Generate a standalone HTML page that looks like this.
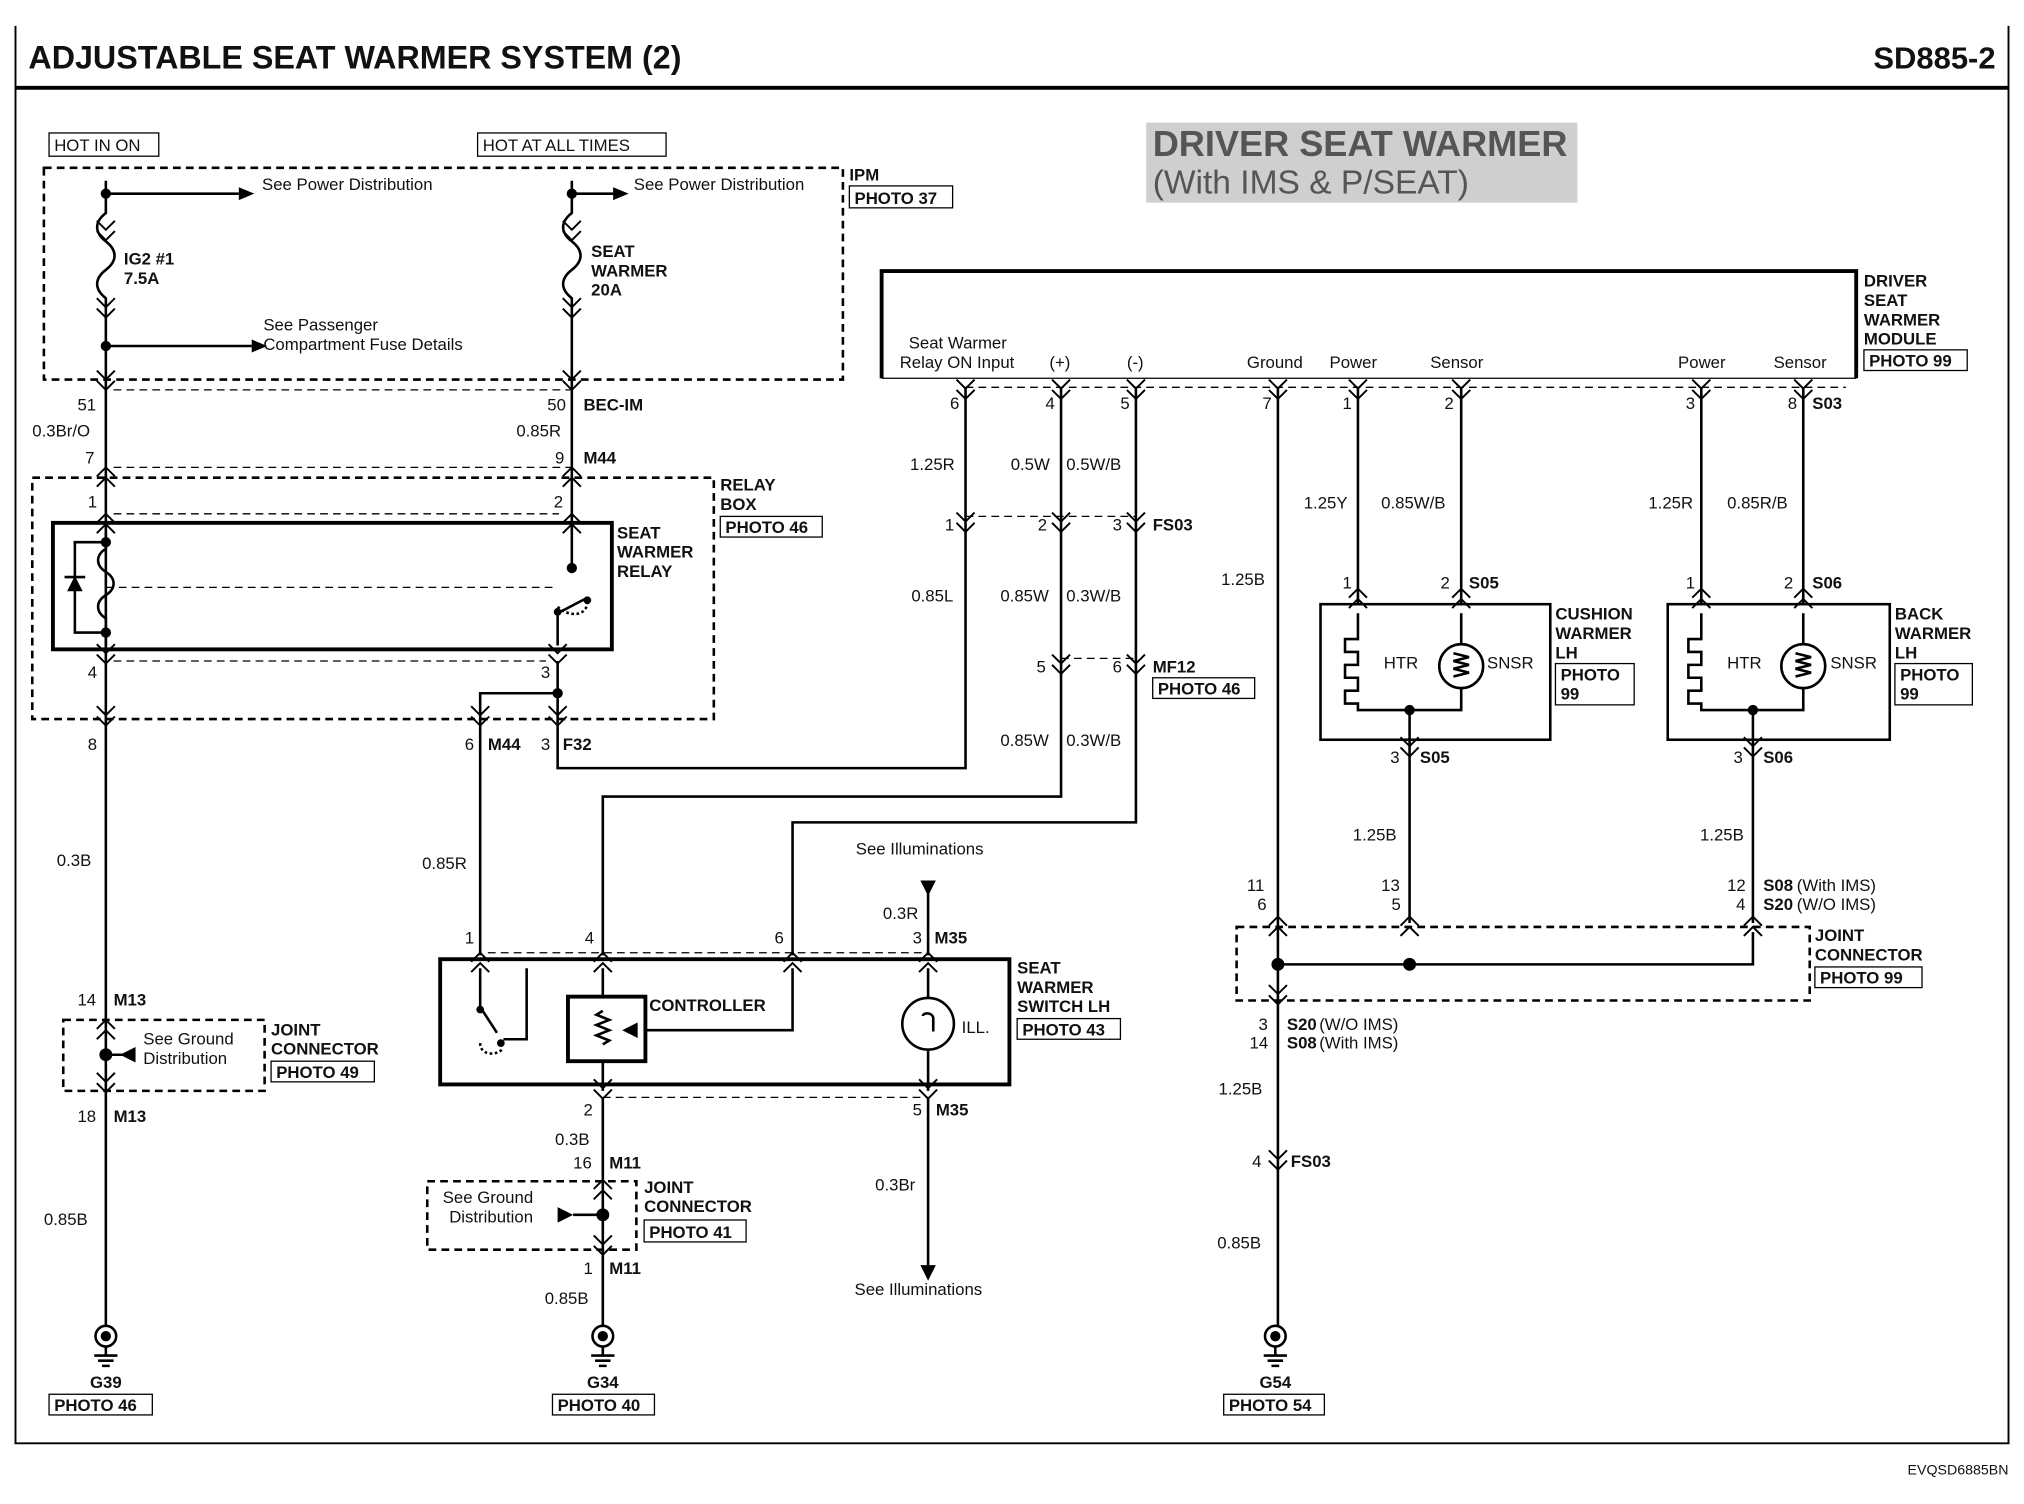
<!DOCTYPE html>
<html><head><meta charset="utf-8"><style>
html,body{margin:0;padding:0;background:#fff;}
svg{display:block;}
text{font-family:"Liberation Sans",sans-serif;font-size:13px;fill:#111;}
.b{font-weight:bold;}
</style></head><body>
<svg width="2024" height="1504" viewBox="0 0 1568 1165" preserveAspectRatio="none" xmlns="http://www.w3.org/2000/svg">
<defs>
<g id="dn" fill="none" stroke="#000" stroke-width="1.5"><path d="M-7,-9 L0,-2 L7,-9 M-7,-1 L0,6 L7,-1"/></g>
<g id="up" fill="none" stroke="#000" stroke-width="1.5"><path d="M-7,9 L0,2 L7,9 M-7,1 L0,-6 L7,1"/></g>
<g id="gnd" fill="none" stroke="#000" stroke-width="2"><circle cx="0" cy="0" r="8"/><circle cx="0" cy="0" r="3" fill="#000"/><path d="M0,8 V15 M-9,15 H9 M-6,19 H6 M-3,23 H3"/></g>
</defs>
<rect width="1568" height="1165" fill="#fff"/>
<g stroke="#000" fill="none">
<path d="M12,20 V1118 H1556 V20" stroke-width="1.5"/>
<path d="M12,68 H1556" stroke-width="3"/>
</g>
<text x="22" y="53" class="b" style="font-size:25px">ADJUSTABLE SEAT WARMER SYSTEM (2)</text>
<text x="1546" y="53" class="b" style="font-size:24px" text-anchor="end">SD885-2</text>
<text x="1556" y="1142" style="font-size:11px" text-anchor="end">EVQSD6885BN</text>

<rect x="888" y="95" width="334" height="62" fill="#cfcfcf"/>
<text x="893" y="121" class="b" style="font-size:28px;fill:#555">DRIVER SEAT WARMER</text>
<text x="893" y="150" style="font-size:26px;fill:#555">(With IMS &amp; P/SEAT)</text>

<rect x="38" y="103" width="85" height="18" fill="none" stroke="#000"/><text x="42" y="117">HOT IN ON</text>
<rect x="370" y="103" width="146" height="18" fill="none" stroke="#000"/><text x="374" y="117">HOT AT ALL TIMES</text>
<rect x="34" y="130" width="619" height="164" fill="none" stroke="#000" stroke-width="2" stroke-dasharray="6,4"/>
<text x="658" y="140" class="b">IPM</text><rect x="658" y="144" width="80" height="17" fill="none" stroke="#000"/><text x="662" y="158" class="b">PHOTO 37</text>

<g stroke="#000" stroke-width="2" fill="none">
<path d="M82,140 V165 c-9,7 -9,15 0,22 c9,7 9,15 0,22 c-9,7 -9,15 0,22 V1027"/>
<path d="M82,150 H185"/><path d="M82,268 H195"/>
<path d="M443,140 V165 c-9,7 -9,15 0,22 c9,7 9,15 0,22 c-9,7 -9,15 0,22 V440"/>
<path d="M443,150 H475"/>
</g>
<g fill="#000"><circle cx="82" cy="150" r="4"/><circle cx="82" cy="268" r="4"/><circle cx="443" cy="150" r="4"/>
<path d="M185,145 L197,150 L185,155Z"/><path d="M195,263 L207,268 L195,273Z"/><path d="M475,145 L487,150 L475,155Z"/></g>
<use href="#dn" x="82" y="180"/><use href="#dn" x="82" y="240"/><use href="#dn" x="443" y="180"/><use href="#dn" x="443" y="240"/>
<text x="203" y="147">See Power Distribution</text>
<text x="491" y="147">See Power Distribution</text>
<text x="96" y="205" class="b">IG2 #1</text><text x="96" y="220" class="b">7.5A</text>
<text x="458" y="199" class="b">SEAT</text><text x="458" y="214" class="b">WARMER</text><text x="458" y="229" class="b">20A</text>
<text x="204" y="256">See Passenger</text><text x="204" y="271">Compartment Fuse Details</text>

<g stroke="#000" stroke-width="1" stroke-dasharray="6,4" fill="none">
<path d="M88,302 H443"/><path d="M88,362 H443"/><path d="M88,398 H433"/><path d="M88,512 H423"/>
<path d="M748,300 H1430"/><path d="M748,400 H880"/><path d="M822,510 H880"/>
<path d="M378,738 H719"/><path d="M467,850 H719"/>
<path d="M82,455 H430"/>
</g>
<use href="#dn" x="82" y="296"/><use href="#dn" x="443" y="296"/>
<use href="#up" x="82" y="368"/><use href="#up" x="443" y="368"/>
<use href="#up" x="82" y="404"/><use href="#up" x="443" y="404"/>
<use href="#dn" x="82" y="508"/><use href="#dn" x="432" y="508"/>
<use href="#dn" x="82" y="556"/><use href="#dn" x="372" y="556"/><use href="#dn" x="432" y="556"/>
<text x="60" y="318">51</text><text x="25" y="338">0.3Br/O</text><text x="66" y="359">7</text>
<text x="424" y="318">50</text><text x="452" y="318" class="b">BEC-IM</text><text x="400" y="338">0.85R</text><text x="430" y="359">9</text><text x="452" y="359" class="b">M44</text>

<rect x="25" y="370" width="528" height="187" fill="none" stroke="#000" stroke-width="2" stroke-dasharray="6,4"/>
<text x="558" y="380" class="b">RELAY</text><text x="558" y="395" class="b">BOX</text>
<rect x="558" y="400" width="79" height="16" fill="none" stroke="#000"/><text x="562" y="413" class="b">PHOTO 46</text>
<text x="68" y="393">1</text><text x="429" y="393">2</text>
<rect x="41" y="405" width="433" height="98" fill="none" stroke="#000" stroke-width="3"/>
<text x="478" y="417" class="b">SEAT</text><text x="478" y="432" class="b">WARMER</text><text x="478" y="447" class="b">RELAY</text>
<g stroke="#000" stroke-width="2" fill="none">
<path d="M82,412 V425 c-8,5 -8,13 0,18 c8,5 8,13 0,18 c-8,5 -8,13 0,18 V500"/>
<path d="M82,420 H58 V490 H82"/><path d="M50,447 H66"/>
<path d="M432,475 V500"/><path d="M432,475 L455,463"/>
<path d="M455,466 C455,478 440,478 432,470" stroke-dasharray="2,2"/>
</g>
<path d="M52,458 L64,458 L58,446Z" fill="#000"/>
<g fill="#000"><circle cx="82" cy="420" r="4"/><circle cx="82" cy="490" r="4"/><circle cx="443" cy="440" r="4"/><circle cx="432" cy="474" r="3"/><circle cx="455" cy="465" r="3"/><circle cx="432" cy="537" r="4"/></g>
<text x="68" y="525">4</text><text x="419" y="525">3</text>
<text x="68" y="581">8</text><text x="360" y="581">6</text><text x="378" y="581" class="b">M44</text><text x="419" y="581">3</text><text x="436" y="581" class="b">F32</text>

<g stroke="#000" stroke-width="2" fill="none">
<path d="M432,512 V595 H748 V300"/>
<path d="M432,537 H372 V740"/>
<path d="M467,740 V617 H822 V300"/>
<path d="M614,740 V637 H880 V300"/>
<path d="M719,690 V740"/><path d="M719,850 V982"/>
<path d="M990,300 V1027"/><path d="M1052,300 V468"/><path d="M1132,300 V468"/>
<path d="M1318,300 V468"/><path d="M1397,300 V468"/>
<path d="M1092,573 V715"/><path d="M1358,573 V715"/>
<path d="M467,850 V1027"/>
</g>
<path d="M713,682 H725 L719,694Z" fill="#000"/><path d="M713,980 H725 L719,992Z" fill="#000"/>
<text x="44" y="671">0.3B</text>
<text x="60" y="779">14</text><text x="88" y="779" class="b">M13</text>
<use href="#up" x="82" y="796"/><use href="#dn" x="82" y="840"/>
<rect x="49" y="790" width="156" height="55" fill="none" stroke="#000" stroke-width="2" stroke-dasharray="6,4"/>
<circle cx="82" cy="817" r="5" fill="#000"/><path d="M82,817 H104" stroke="#000" stroke-width="2"/><path d="M105,811 L93,817 L105,823Z" fill="#000"/>
<text x="111" y="809">See Ground</text><text x="111" y="824">Distribution</text>
<text x="210" y="802" class="b">JOINT</text><text x="210" y="817" class="b">CONNECTOR</text>
<rect x="210" y="822" width="80" height="16" fill="none" stroke="#000"/><text x="214" y="835" class="b">PHOTO 49</text>
<text x="60" y="869">18</text><text x="88" y="869" class="b">M13</text>
<text x="34" y="949">0.85B</text>
<use href="#gnd" x="82" y="1035"/><text x="82" y="1075" class="b" text-anchor="middle">G39</text>
<rect x="38" y="1080" width="80" height="16" fill="none" stroke="#000"/><text x="42" y="1093" class="b">PHOTO 46</text>

<text x="327" y="673">0.85R</text>
<text x="360" y="731">1</text><text x="453" y="731">4</text><text x="600" y="731">6</text><text x="707" y="731">3</text><text x="724" y="731" class="b">M35</text>
<text x="663" y="662">See Illuminations</text><text x="684" y="712">0.3R</text>
<use href="#up" x="372" y="744"/><use href="#up" x="467" y="744"/><use href="#up" x="614" y="744"/><use href="#up" x="719" y="744"/>
<use href="#dn" x="467" y="845"/><use href="#dn" x="719" y="845"/>
<rect x="341" y="743" width="441" height="97" fill="none" stroke="#000" stroke-width="3"/>
<g stroke="#000" stroke-width="2" fill="none">
<path d="M372,750 V780 L385,800 M408,750 V805 H390"/>
<path d="M372,808 C372,818 385,818 390,812" stroke-dasharray="2,2"/>
<path d="M467,750 V773 M467,822 V845"/>
<rect x="440" y="772" width="60" height="50" stroke-width="3"/>
<path d="M467,783 l-5,3 l10,4 l-10,4 l10,4 l-10,4 l10,4 l-5,3"/>
<path d="M500,798 H614 V750"/>
<circle cx="719" cy="793" r="20"/><path d="M719,750 V773 M719,813 V845"/>
<path d="M715,787 c0,-3 8,-3 8,2 v10"/>
</g>
<path d="M494,792 L482,798 L494,804Z" fill="#000"/>
<g fill="#000"><circle cx="372" cy="782" r="3"/><circle cx="388" cy="808" r="3"/></g>
<text x="503" y="783" class="b">CONTROLLER</text><text x="745" y="800">ILL.</text>
<text x="788" y="754" class="b">SEAT</text><text x="788" y="769" class="b">WARMER</text><text x="788" y="784" class="b">SWITCH LH</text>
<rect x="788" y="789" width="80" height="16" fill="none" stroke="#000"/><text x="792" y="802" class="b">PHOTO 43</text>
<text x="452" y="864">2</text><text x="707" y="864">5</text><text x="725" y="864" class="b">M35</text>
<text x="430" y="887">0.3B</text><text x="444" y="905">16</text><text x="472" y="905" class="b">M11</text>
<use href="#up" x="467" y="920"/><use href="#dn" x="467" y="966"/>
<rect x="331" y="915" width="162" height="53" fill="none" stroke="#000" stroke-width="2" stroke-dasharray="6,4"/>
<text x="343" y="932">See Ground</text><text x="348" y="947">Distribution</text>
<path d="M432,935 L444,941 L432,947Z" fill="#000"/><path d="M444,941 H467" stroke="#000" stroke-width="2"/><circle cx="467" cy="941" r="5" fill="#000"/>
<text x="499" y="924" class="b">JOINT</text><text x="499" y="939" class="b">CONNECTOR</text>
<rect x="499" y="945" width="79" height="17" fill="none" stroke="#000"/><text x="503" y="959" class="b">PHOTO 41</text>
<text x="452" y="987">1</text><text x="472" y="987" class="b">M11</text><text x="422" y="1010">0.85B</text>
<use href="#gnd" x="467" y="1035"/><text x="467" y="1075" class="b" text-anchor="middle">G34</text>
<rect x="428" y="1080" width="79" height="16" fill="none" stroke="#000"/><text x="432" y="1093" class="b">PHOTO 40</text>
<text x="678" y="922">0.3Br</text><text x="662" y="1003">See Illuminations</text>

<path d="M683,293 V210 H1438 V293" fill="none" stroke="#000" stroke-width="3"/>
<path d="M683,293 H1438" stroke="#000" stroke-width="1"/>
<text x="704" y="270">Seat Warmer</text><text x="697" y="285">Relay ON Input</text>
<text x="813" y="285">(+)</text><text x="873" y="285">(-)</text><text x="966" y="285">Ground</text><text x="1030" y="285">Power</text>
<text x="1108" y="285">Sensor</text><text x="1300" y="285">Power</text><text x="1374" y="285">Sensor</text>
<text x="1444" y="222" class="b">DRIVER</text><text x="1444" y="237" class="b">SEAT</text><text x="1444" y="252" class="b">WARMER</text><text x="1444" y="267" class="b">MODULE</text>
<rect x="1444" y="271" width="80" height="16" fill="none" stroke="#000"/><text x="1448" y="284" class="b">PHOTO 99</text>
<use href="#dn" x="748" y="303"/><use href="#dn" x="822" y="303"/><use href="#dn" x="880" y="303"/><use href="#dn" x="990" y="303"/>
<use href="#dn" x="1052" y="303"/><use href="#dn" x="1132" y="303"/><use href="#dn" x="1318" y="303"/><use href="#dn" x="1397" y="303"/>
<text x="736" y="317">6</text><text x="810" y="317">4</text><text x="868" y="317">5</text><text x="978" y="317">7</text><text x="1040" y="317">1</text><text x="1119" y="317">2</text><text x="1306" y="317">3</text><text x="1385" y="317">8</text><text x="1404" y="317" class="b">S03</text>
<text x="705" y="364">1.25R</text><text x="783" y="364">0.5W</text><text x="826" y="364">0.5W/B</text>
<use href="#dn" x="748" y="406"/><use href="#dn" x="822" y="406"/><use href="#dn" x="880" y="406"/>
<text x="732" y="411">1</text><text x="804" y="411">2</text><text x="862" y="411">3</text><text x="893" y="411" class="b">FS03</text>
<text x="706" y="466">0.85L</text><text x="775" y="466">0.85W</text><text x="826" y="466">0.3W/B</text>
<use href="#dn" x="822" y="516"/><use href="#dn" x="880" y="516"/>
<text x="803" y="521">5</text><text x="862" y="521">6</text><text x="893" y="521" class="b">MF12</text>
<rect x="893" y="525" width="79" height="16" fill="none" stroke="#000"/><text x="897" y="538" class="b">PHOTO 46</text>
<text x="775" y="578">0.85W</text><text x="826" y="578">0.3W/B</text>
<text x="946" y="453">1.25B</text>

<text x="1010" y="394">1.25Y</text><text x="1070" y="394">0.85W/B</text>
<text x="1040" y="456">1</text><text x="1116" y="456">2</text><text x="1138" y="456" class="b">S05</text>
<use href="#up" x="1052" y="462"/><use href="#up" x="1132" y="462"/>
<rect x="1023" y="468" width="178" height="105" fill="none" stroke="#000" stroke-width="2"/>
<g stroke="#000" stroke-width="2" fill="none">
<path d="M1052,475 V495 h-10 v10 h10 v10 h-10 v10 h10 v10 h-10 v10 h10 V550 H1132 V533"/>
<circle cx="1132" cy="516" r="17"/><path d="M1132,475 V499"/>
<path d="M1126,506 l12,3 l-12,3 l12,3 l-12,3 l12,3 l-12,3"/>
<path d="M1092,550 V573"/>
</g>
<circle cx="1092" cy="550" r="4" fill="#000"/>
<text x="1072" y="518">HTR</text><text x="1152" y="518">SNSR</text>
<text x="1205" y="480" class="b">CUSHION</text><text x="1205" y="495" class="b">WARMER</text><text x="1205" y="510" class="b">LH</text>
<rect x="1205" y="514" width="61" height="32" fill="none" stroke="#000"/><text x="1209" y="527" class="b">PHOTO</text><text x="1209" y="542" class="b">99</text>
<use href="#dn" x="1092" y="580"/>
<text x="1077" y="591">3</text><text x="1100" y="591" class="b">S05</text><text x="1048" y="651">1.25B</text>

<text x="1277" y="394">1.25R</text><text x="1338" y="394">0.85R/B</text>
<text x="1306" y="456">1</text><text x="1382" y="456">2</text><text x="1404" y="456" class="b">S06</text>
<use href="#up" x="1318" y="462"/><use href="#up" x="1397" y="462"/>
<rect x="1292" y="468" width="172" height="105" fill="none" stroke="#000" stroke-width="2"/>
<g stroke="#000" stroke-width="2" fill="none">
<path d="M1318,475 V495 h-10 v10 h10 v10 h-10 v10 h10 v10 h-10 v10 h10 V550 H1397 V533"/>
<circle cx="1397" cy="516" r="17"/><path d="M1397,475 V499"/>
<path d="M1391,506 l12,3 l-12,3 l12,3 l-12,3 l12,3 l-12,3"/>
<path d="M1358,550 V573"/>
</g>
<circle cx="1358" cy="550" r="4" fill="#000"/>
<text x="1338" y="518">HTR</text><text x="1418" y="518">SNSR</text>
<text x="1468" y="480" class="b">BACK</text><text x="1468" y="495" class="b">WARMER</text><text x="1468" y="510" class="b">LH</text>
<rect x="1468" y="514" width="60" height="32" fill="none" stroke="#000"/><text x="1472" y="527" class="b">PHOTO</text><text x="1472" y="542" class="b">99</text>
<use href="#dn" x="1358" y="580"/>
<text x="1343" y="591">3</text><text x="1366" y="591" class="b">S06</text><text x="1317" y="651">1.25B</text>

<text x="966" y="690">11</text><text x="974" y="705">6</text>
<text x="1070" y="690">13</text><text x="1078" y="705">5</text>
<text x="1338" y="690">12</text><text x="1345" y="705">4</text>
<text x="1366" y="690" class="b">S08</text><text x="1392" y="690">(With IMS)</text>
<text x="1366" y="705" class="b">S20</text><text x="1392" y="705">(W/O IMS)</text>
<use href="#up" x="990" y="716"/><use href="#up" x="1092" y="716"/><use href="#up" x="1358" y="716"/>
<rect x="958" y="718" width="444" height="57" fill="none" stroke="#000" stroke-width="2" stroke-dasharray="6,4"/>
<path d="M990,747 H1358 V722" stroke="#000" stroke-width="2" fill="none"/>
<g fill="#000"><circle cx="990" cy="747" r="5"/><circle cx="1092" cy="747" r="5"/></g>
<text x="1406" y="729" class="b">JOINT</text><text x="1406" y="744" class="b">CONNECTOR</text>
<rect x="1406" y="749" width="83" height="16" fill="none" stroke="#000"/><text x="1410" y="762" class="b">PHOTO 99</text>
<use href="#dn" x="990" y="772"/>
<text x="975" y="798">3</text><text x="968" y="812">14</text>
<text x="997" y="798" class="b">S20</text><text x="1022" y="798">(W/O IMS)</text>
<text x="997" y="812" class="b">S08</text><text x="1022" y="812">(With IMS)</text>
<text x="944" y="848">1.25B</text>
<use href="#dn" x="990" y="900"/><text x="970" y="904">4</text><text x="1000" y="904" class="b">FS03</text>
<text x="943" y="967">0.85B</text>
<use href="#gnd" x="988" y="1035"/><text x="988" y="1075" class="b" text-anchor="middle">G54</text>
<rect x="948" y="1080" width="78" height="16" fill="none" stroke="#000"/><text x="952" y="1093" class="b">PHOTO 54</text>
</svg>
</body></html>
